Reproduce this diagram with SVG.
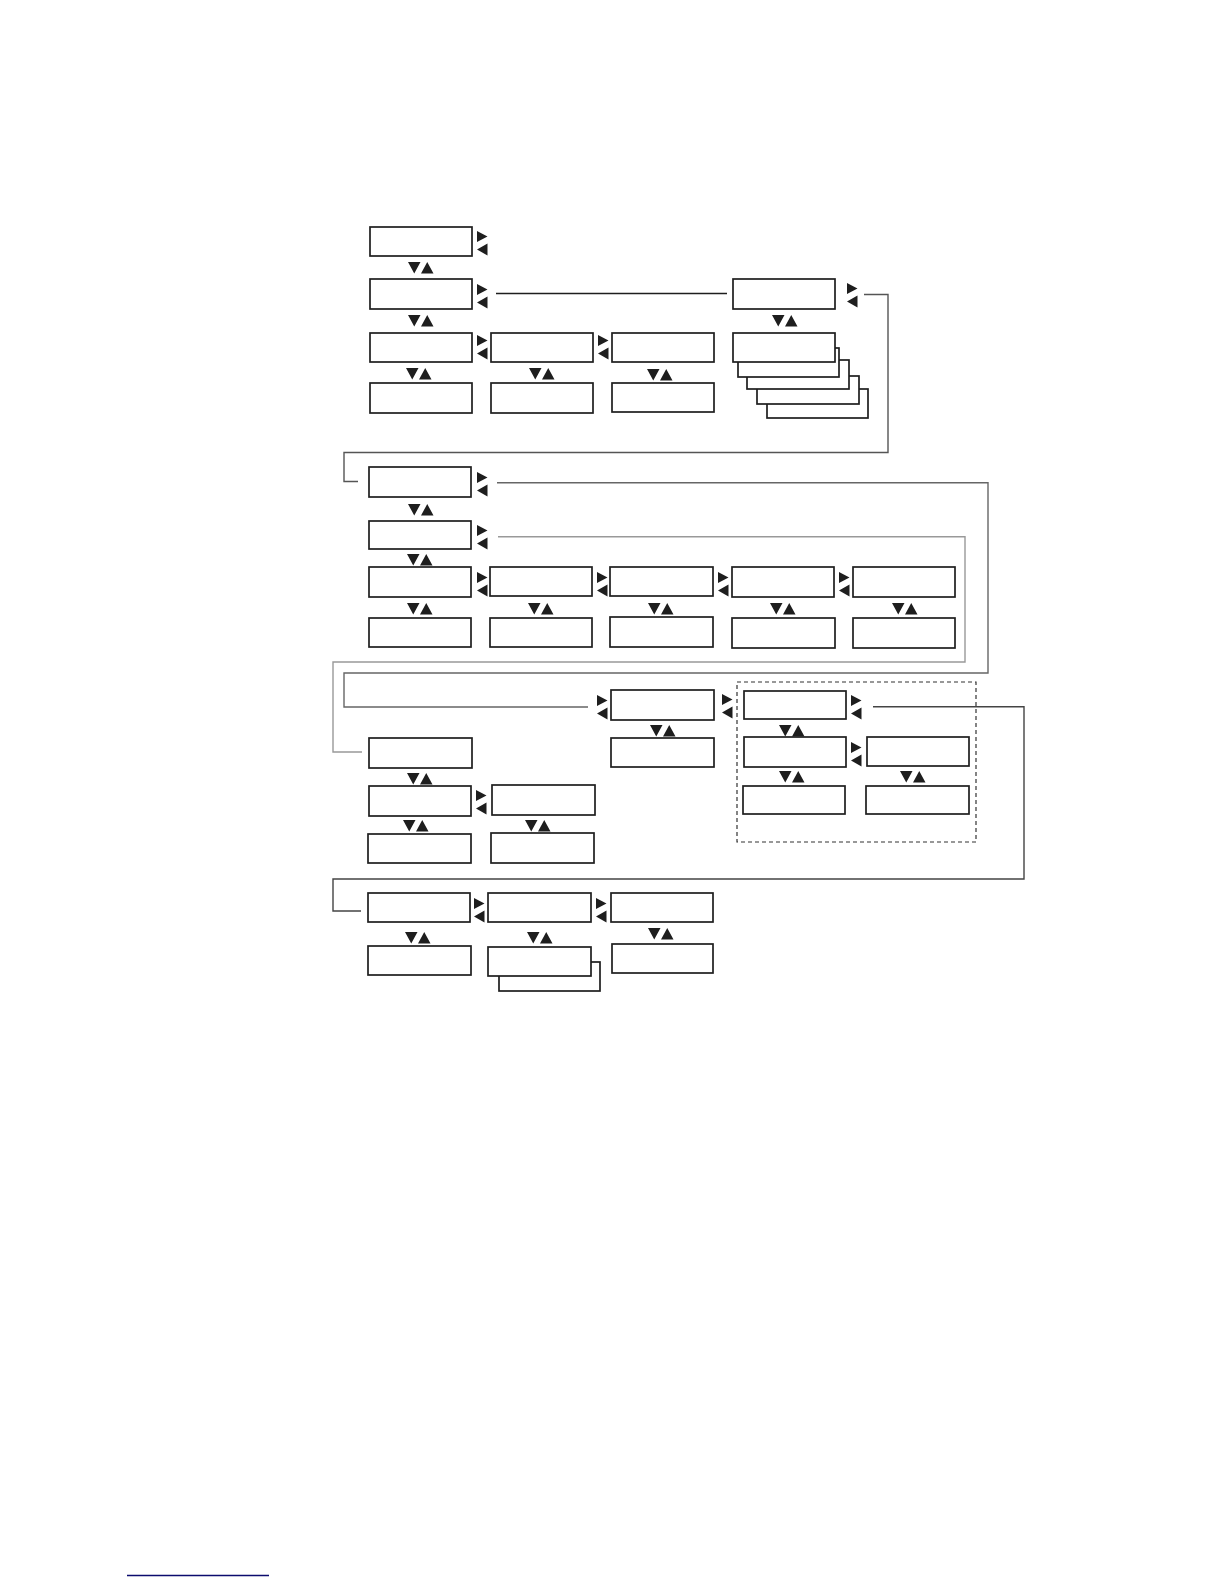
<svg xmlns="http://www.w3.org/2000/svg" xmlns:xlink="http://www.w3.org/1999/xlink" width="1224" height="1584" viewBox="0 0 1224 1584">
<style>
.b{fill:#fff;stroke:#1e1e1e;stroke-width:1.7}
.t{fill:#1e1e1e}
.c{fill:none;stroke-width:1.4}
</style>
<defs>
<path id="lr" class="t" d="M0,0 L10.5,5.5 L0,11 Z M10.5,12.5 L0,18.5 L10.5,24.5 Z"/>
<path id="du" class="t" d="M0,0 L12.5,0 L6.25,11.5 Z M13,11.5 L25.5,11.5 L19.25,0 Z"/>
</defs>
<rect width="1224" height="1584" fill="#fff"/>
<g id="connectors">
<line class="c" stroke="#1e1e1e" x1="496" y1="293.5" x2="727" y2="293.5"/>
<polyline class="c" stroke="#555" points="864,294.5 888,294.5 888,452.5 344,452.5 344,481.5 358,481.5"/>
<polyline class="c" stroke="#666" points="497,482.7 988,482.7 988,673 344,673 344,707 588,707"/>
<polyline class="c" stroke="#999" points="498,536.7 965,536.7 965,662 333,662 333,752 362,752"/>
<polyline class="c" stroke="#444" points="873,706.7 1024,706.7 1024,879 333,879 333,911 361,911"/>
<rect id="group-dashed" x="737" y="682" width="239" height="160" fill="none" stroke="#333" stroke-width="1.2" stroke-dasharray="4,3"/>
</g>
<g id="n1"><rect class="b" x="370" y="227" width="102" height="29"/><use href="#lr" x="477" y="231"/><use href="#du" x="408" y="262"/></g>
<g id="n2"><rect class="b" x="370" y="279" width="102" height="30"/><use href="#lr" x="477" y="284"/><use href="#du" x="408" y="315"/></g>
<g id="n3"><rect class="b" x="370" y="333" width="102" height="29"/><use href="#lr" x="477" y="335"/><use href="#du" x="406" y="368"/></g>
<g id="n3b"><rect class="b" x="491" y="333" width="102" height="29"/><use href="#lr" x="598" y="335"/><use href="#du" x="529" y="368"/></g>
<g id="n3c"><rect class="b" x="612" y="333" width="102" height="29"/><use href="#du" x="647" y="369"/></g>
<g id="n4"><rect class="b" x="370" y="383" width="102" height="30"/></g>
<g id="n4b"><rect class="b" x="491" y="383" width="102" height="30"/></g>
<g id="n4c"><rect class="b" x="612" y="383" width="102" height="29"/></g>
<g id="nTR"><rect class="b" x="733" y="279" width="102" height="30"/><use href="#lr" x="847" y="283"/><use href="#du" x="772" y="315"/></g>
<g id="nStack">
<rect class="b" x="767" y="389" width="101" height="29"/>
<rect class="b" x="757" y="376" width="102" height="28"/>
<rect class="b" x="747" y="360" width="102" height="29"/>
<rect class="b" x="738" y="348" width="101" height="29"/>
<rect class="b" x="733" y="333" width="102" height="29"/>
</g>
<g id="n5"><rect class="b" x="369" y="467" width="102" height="30"/><use href="#lr" x="477" y="472"/><use href="#du" x="408" y="504"/></g>
<g id="n6"><rect class="b" x="369" y="521" width="102" height="28"/><use href="#lr" x="477" y="525"/><use href="#du" x="407" y="554"/></g>
<g id="n7"><rect class="b" x="369" y="567" width="102" height="30"/><use href="#lr" x="477" y="572"/><use href="#du" x="407" y="603"/></g>
<g id="n7b"><rect class="b" x="490" y="567" width="102" height="29"/><use href="#lr" x="597" y="572"/><use href="#du" x="528" y="603"/></g>
<g id="n7c"><rect class="b" x="610" y="567" width="103" height="29"/><use href="#lr" x="718" y="572"/><use href="#du" x="648" y="603"/></g>
<g id="n7d"><rect class="b" x="732" y="567" width="102" height="30"/><use href="#lr" x="839" y="572"/><use href="#du" x="770" y="603"/></g>
<g id="n7e"><rect class="b" x="853" y="567" width="102" height="30"/><use href="#du" x="892" y="603"/></g>
<g id="n8"><rect class="b" x="369" y="618" width="102" height="29"/></g>
<g id="n8b"><rect class="b" x="490" y="618" width="102" height="29"/></g>
<g id="n8c"><rect class="b" x="610" y="617" width="103" height="30"/></g>
<g id="n8d"><rect class="b" x="732" y="618" width="103" height="30"/></g>
<g id="n8e"><rect class="b" x="853" y="618" width="102" height="30"/></g>
<g id="n9"><use href="#lr" x="597" y="695"/><rect class="b" x="611" y="690" width="103" height="30"/><use href="#lr" x="722" y="694"/><use href="#du" x="650" y="725"/></g>
<g id="n10"><rect class="b" x="611" y="738" width="103" height="29"/></g>
<g id="n11"><rect class="b" x="369" y="738" width="103" height="30"/><use href="#du" x="407" y="773"/></g>
<g id="n12"><rect class="b" x="369" y="786" width="102" height="30"/><use href="#lr" x="476" y="790"/><use href="#du" x="403" y="820"/></g>
<g id="n12b"><rect class="b" x="492" y="785" width="103" height="30"/><use href="#du" x="525" y="820"/></g>
<g id="n13"><rect class="b" x="368" y="834" width="103" height="29"/></g>
<g id="n13b"><rect class="b" x="491" y="833" width="103" height="30"/></g>
<g id="n14"><rect class="b" x="744" y="691" width="102" height="28"/><use href="#lr" x="851" y="695"/><use href="#du" x="779" y="725"/></g>
<g id="n15"><rect class="b" x="744" y="737" width="102" height="30"/><use href="#lr" x="851" y="742"/><use href="#du" x="779" y="771"/></g>
<g id="n15b"><rect class="b" x="867" y="737" width="102" height="29"/><use href="#du" x="900" y="771"/></g>
<g id="n16"><rect class="b" x="743" y="786" width="102" height="28"/></g>
<g id="n16b"><rect class="b" x="866" y="786" width="103" height="28"/></g>
<g id="n17"><rect class="b" x="368" y="893" width="102" height="29"/><use href="#lr" x="474" y="898"/><use href="#du" x="405" y="932"/></g>
<g id="n17b"><rect class="b" x="488" y="893" width="103" height="29"/><use href="#lr" x="596" y="898"/><use href="#du" x="527" y="932"/></g>
<g id="n17c"><rect class="b" x="611" y="893" width="102" height="29"/><use href="#du" x="648" y="928"/></g>
<g id="n18"><rect class="b" x="368" y="946" width="103" height="29"/></g>
<g id="n18b"><rect class="b" x="499" y="962" width="101" height="29"/><rect class="b" x="488" y="947" width="103" height="29"/></g>
<g id="n18c"><rect class="b" x="612" y="944" width="101" height="29"/></g>
<line x1="127" y1="1575.5" x2="269" y2="1575.5" stroke="#0c0c6e" stroke-width="1.5"/>
</svg>
